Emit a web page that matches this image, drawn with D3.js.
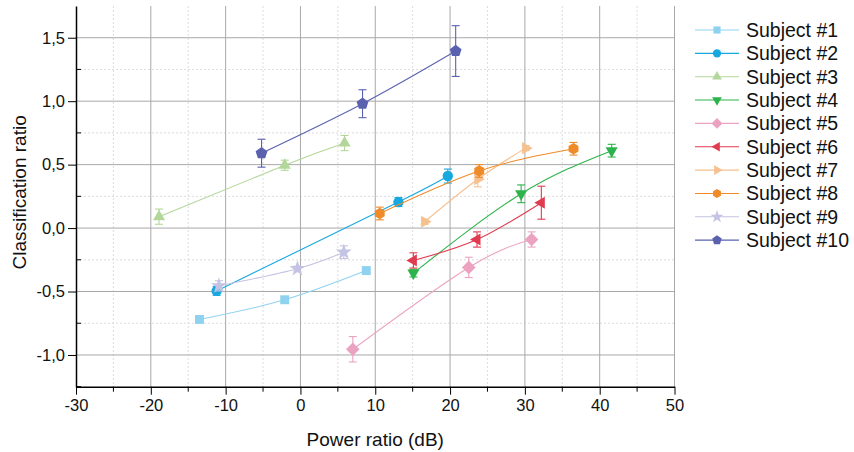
<!DOCTYPE html>
<html><head><meta charset="utf-8">
<script src="https://cdn.jsdelivr.net/npm/d3@7"></script>
<style>body{margin:0;background:#fff}svg{display:block}text{font-family:"Liberation Sans",Arial,sans-serif;fill:#111}</style>
</head><body><svg id="c" width="854" height="452"></svg>
<script>
const subjects = ["Subject #1","Subject #2","Subject #3","Subject #4","Subject #5","Subject #6","Subject #7","Subject #8","Subject #9","Subject #10"];
const colors = ["#8fd2f0","#17a8e0","#b3d79a","#2db34b","#eba3c1","#e03c50","#f6c08f","#f08b2a","#c4c3e3","#5a62b0"];
const shapes = ["square","circle","triangle","triangleDown","diamond","triangleLeft","triangleRight","hexagon","star","pentagon"];
const xs1=[-13.5,-2.1,8.8],   ys1=[-0.72,-0.565,-0.335], es1=[0.015,0.015,0.015];
const xs2=[-11.2,13.1,19.7],  ys2=[-0.495,0.205,0.41],   es2=[0.035,0.035,0.055];
const xs3=[-18.9,-2.1,5.9],   ys3=[0.09,0.495,0.67],     es3=[0.06,0.04,0.06];
const xs4=[15.1,29.5,41.6],   ys4=[-0.355,0.27,0.61],    es4=[0.03,0.07,0.05];
const xs5=[7.0,22.5,30.9],    ys5=[-0.955,-0.31,-0.09],  es5=[0.1,0.08,0.06];
const xs6=[15.1,23.6,32.2],   ys6=[-0.255,-0.09,0.2],    es6=[0.06,0.06,0.13];
const xs7=[16.6,23.7,30.1],   ys7=[0.05,0.385,0.63],     es7=[0.02,0.06,0.02];
const xs8=[10.6,23.9,36.5],   ys8=[0.115,0.45,0.625],    es8=[0.05,0.05,0.05];
const xs9=[-10.9,-0.4,5.8],   ys9=[-0.455,-0.32,-0.19],  es9=[0.04,0.02,0.05];
const xs10=[-5.2,8.3,20.75],  ys10=[0.59,0.98,1.395],    es10=[0.11,0.11,0.2];
const xTicks=[-30,-20,-10,0,10,20,30,40,50];
const yTicks=[-1.0,-0.5,0.0,0.5,1.0,1.5];
const xLabel="Power ratio (dB)", yLabel="Classification ratio";

const X=[xs1,xs2,xs3,xs4,xs5,xs6,xs7,xs8,xs9,xs10];
const Y=[ys1,ys2,ys3,ys4,ys5,ys6,ys7,ys8,ys9,ys10];
const E=[es1,es2,es3,es4,es5,es6,es7,es8,es9,es10];

const svg=d3.select("#c");
const L=76,R=674.5,T=6,B=386.7;
const x=d3.scaleLinear().domain([-30,50]).range([L,R]);
const y=d3.scaleLinear().domain([-1.25,1.75]).range([B,T]);

// minor grid
const g=svg.append("g");
d3.range(-25,50,10).forEach(v=>g.append("line").attr("x1",x(v)).attr("x2",x(v)).attr("y1",T).attr("y2",B).attr("stroke","#d4d4d4").attr("stroke-dasharray","2,2").attr("stroke-width",0.8));
[-0.75,-0.25,0.25,0.75,1.25].forEach(v=>g.append("line").attr("x1",L).attr("x2",R).attr("y1",y(v)).attr("y2",y(v)).attr("stroke","#d4d4d4").attr("stroke-dasharray","2,2").attr("stroke-width",0.8));
// major grid
xTicks.slice(1).forEach(v=>g.append("line").attr("x1",x(v)).attr("x2",x(v)).attr("y1",T).attr("y2",B).attr("stroke","#a8a8a8").attr("stroke-width",1));
yTicks.forEach(v=>g.append("line").attr("x1",L).attr("x2",R).attr("y1",y(v)).attr("y2",y(v)).attr("stroke","#a8a8a8").attr("stroke-width",1));

// axes
const xa=svg.append("g").attr("transform",`translate(0,${B})`)
  .call(d3.axisBottom(x).tickValues(xTicks).tickFormat(d=>String(d)).tickSizeInner(8).tickSizeOuter(0).tickPadding(5));
xa.selectAll(".tick text").style("font-size","16.5px").style("font-family","'Liberation Sans',Arial,sans-serif").attr("fill","#111");
xa.append("g").selectAll("line").data(d3.range(-25,50,10)).join("line").attr("x1",d=>x(d)).attr("x2",d=>x(d)).attr("y1",0).attr("y2",5).attr("stroke","#000");
const ya=svg.append("g").attr("transform",`translate(${L},0)`)
  .call(d3.axisLeft(y).tickValues(yTicks).tickFormat(d=>d.toFixed(1).replace(".",",")).tickSizeInner(8).tickSizeOuter(0).tickPadding(3));
ya.selectAll(".tick text").style("font-size","16.5px").style("font-family","'Liberation Sans',Arial,sans-serif").attr("fill","#111");
ya.append("g").selectAll("line").data([-1.25,-0.75,-0.25,0.25,0.75,1.25]).join("line").attr("x1",0).attr("x2",5).attr("y1",d=>y(d)).attr("y2",d=>y(d)).attr("stroke","#000");
svg.selectAll(".domain").attr("stroke","#000").attr("stroke-width",1.5);
svg.selectAll(".tick line").attr("stroke","#000");

svg.append("text").attr("x",(L+R)/2).attr("y",446).attr("text-anchor","middle").style("font-size","19px").text(xLabel);
svg.append("text").attr("transform",`translate(26,${(T+B)/2-4}) rotate(-90)`).attr("text-anchor","middle").style("font-size","19px").text(yLabel);

function poly(n,r,rot){const p=[];for(let i=0;i<n;i++){const a=rot+i*2*Math.PI/n;p.push([r*Math.cos(a),r*Math.sin(a)]);}return "M"+p.map(q=>q.join(",")).join("L")+"Z";}
function shapePath(s,k){
  switch(s){
    case "square": return d3.symbol(d3.symbolSquare,80*k*k)();
    case "circle": return d3.symbol(d3.symbolCircle,85*k*k)();
    case "triangle": return poly(3,7*k,-Math.PI/2);
    case "triangleDown": return poly(3,7*k,Math.PI/2);
    case "triangleLeft": return poly(3,7*k,Math.PI);
    case "triangleRight": return poly(3,7*k,0);
    case "diamond": return poly(4,6.8*k,0);
    case "hexagon": return poly(6,5.7*k,Math.PI/6);
    case "pentagon": return poly(5,6.2*k,-Math.PI/2);
    case "star": return d3.symbol(d3.symbolStar,80*k*k)();
  }
}

const line=d3.line().x(d=>x(d[0])).y(d=>y(d[1])).curve(d3.curveNatural);
subjects.forEach((s,i)=>{
  const pts=X[i].map((v,j)=>[v,Y[i][j],E[i][j]]);
  const gg=svg.append("g");
  gg.append("path").attr("d",line(pts)).attr("fill","none").attr("stroke",colors[i]).attr("stroke-width",1.1);
  pts.forEach(p=>{
    gg.append("line").attr("x1",x(p[0])).attr("x2",x(p[0])).attr("y1",y(p[1]-p[2])).attr("y2",y(p[1]+p[2])).attr("stroke",colors[i]).attr("stroke-width",1.1);
    [p[1]-p[2],p[1]+p[2]].forEach(v=>gg.append("line").attr("x1",x(p[0])-4).attr("x2",x(p[0])+4).attr("y1",y(v)).attr("y2",y(v)).attr("stroke",colors[i]).attr("stroke-width",1.1));
    gg.append("path").attr("d",shapePath(shapes[i],1)).attr("transform",`translate(${x(p[0])},${y(p[1])})`).attr("fill",colors[i]);
  });
});

// legend
const lg=svg.append("g");
subjects.forEach((s,i)=>{
  const yy=30+i*23.35;
  lg.append("line").attr("x1",695).attr("x2",739).attr("y1",yy).attr("y2",yy).attr("stroke",colors[i]).attr("stroke-width",1.1);
  lg.append("path").attr("d",shapePath(shapes[i],0.8)).attr("transform",`translate(717,${yy})`).attr("fill",colors[i]);
  lg.append("text").attr("x",746).attr("y",yy+7).style("font-size","19.5px").text(s);
});
</script></body></html>
